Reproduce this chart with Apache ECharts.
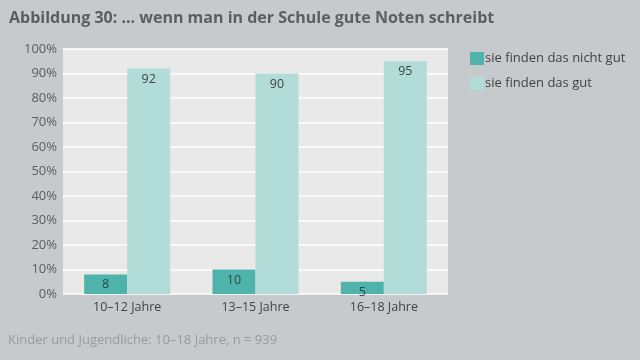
<!DOCTYPE html>
<html><head><meta charset="utf-8">
<script src="https://cdn.jsdelivr.net/npm/echarts@6/dist/echarts.min.js"></script>
<style>html,body{margin:0;padding:0;background:#c7cacc;}#c{width:640px;height:360px;}</style>
</head><body><div id="c"></div>
<script>
const categories = ['10–12 Jahre', '13–15 Jahre', '16–18 Jahre'];
const seriesNames = ['sie finden das nicht gut', 'sie finden das gut'];
const nichtGut = [8, 10, 5];
const gut = [92, 90, 95];
const yTicks = [0, 10, 20, 30, 40, 50, 60, 70, 80, 90, 100];

const chart = echarts.init(document.getElementById('c'), null, {renderer: 'canvas'});
const font = "'Open Sans', 'Noto Sans', sans-serif";
chart.setOption({
  backgroundColor: '#c7cacc',
  animation: false,
  title: [{
    text: 'Abbildung 30: ... wenn man in der Schule gute Noten schreibt',
    left: 4, top: 5,
    textStyle: {fontFamily: font, fontSize: 16, fontWeight: 'bold', color: '#5b5f62'}
  }, {
    text: 'Kinder und Jugendliche: 10–18 Jahre, n = 939',
    left: 3, top: 329,
    textStyle: {fontFamily: font, fontSize: 13, fontWeight: 'normal', color: '#979b9e'}
  }],
  legend: {
    orient: 'vertical', left: 465, top: 47, itemGap: 12,
    itemWidth: 14, itemHeight: 13, icon: 'rect',
    textStyle: {fontFamily: font, fontSize: 13, color: '#3f4345', padding: [0,0,0,-4]},
    data: seriesNames
  },
  grid: {left: 63, right: 192, top: 49, bottom: 66, backgroundColor: '#e9e9e9', show: true, borderWidth: 0},
  xAxis: {
    type: 'category', data: categories,
    axisLine: {show: false}, axisTick: {show: false},
    axisLabel: {fontFamily: font, fontSize: 12.5, color: '#3f4345', margin: 7}
  },
  yAxis: {
    type: 'value', min: 0, max: 100, interval: 10,
    axisLine: {show: false}, axisTick: {show: false},
    axisLabel: {fontFamily: font, fontSize: 13, color: '#5a5e61', margin: 6,
      formatter: v => yTicks.includes(v) ? v + '%' : ''},
    splitLine: {lineStyle: {color: '#ffffff', width: 1.5}}
  },
  series: [{
    name: seriesNames[0], type: 'bar', data: nichtGut, barWidth: 43, barGap: '0%',
    itemStyle: {color: '#4fb3ab'},
    label: {show: true, position: 'insideTop', distance: 4, fontFamily: font, fontSize: 12.5, color: '#2f4b49'}
  }, {
    name: seriesNames[1], type: 'bar', data: gut, barWidth: 43, barGap: '0%',
    itemStyle: {color: '#b2dcd8'},
    label: {show: true, position: 'insideTop', distance: 4, fontFamily: font, fontSize: 12.5, color: '#3f4345'}
  }]
});
</script></body></html>
